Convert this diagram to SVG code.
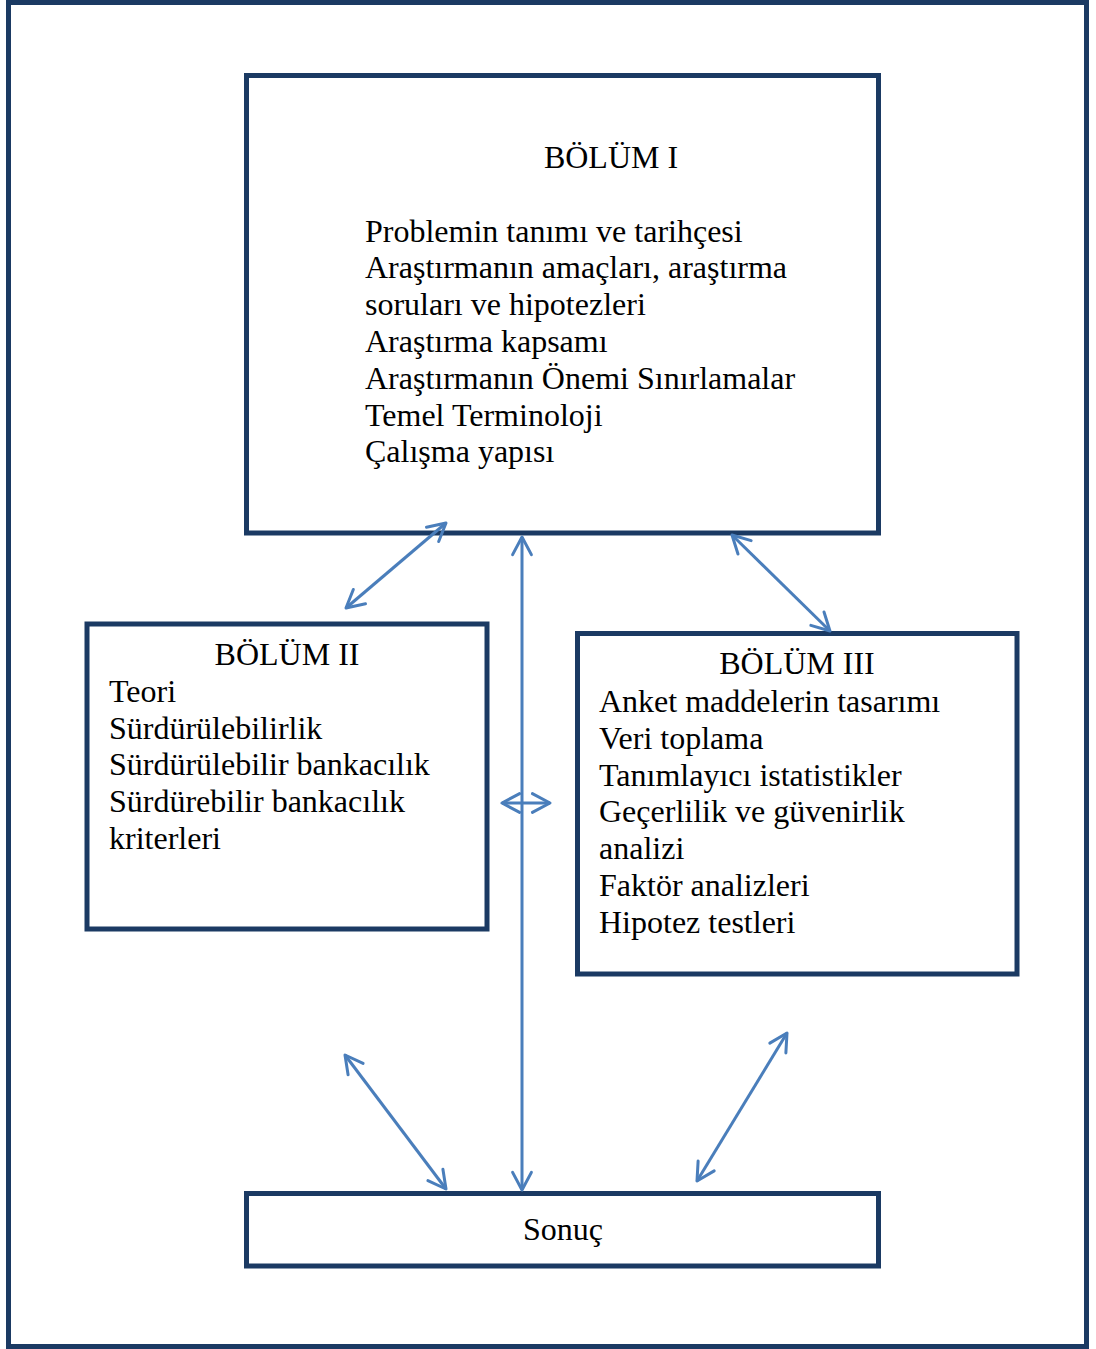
<svg xmlns="http://www.w3.org/2000/svg" width="1096" height="1349" viewBox="0 0 1096 1349">
<style>
.box{fill:#ffffff;stroke:#1B3A63;stroke-width:5}
.t{font-family:"Liberation Serif","Times New Roman",serif;font-size:32px;fill:#000000}
.c{text-anchor:middle}
.conn{stroke:#4A7EBB;stroke-width:3;fill:none}
</style>
<defs>
<marker id="ah" viewBox="-22 -14 26 28" refX="0" refY="0" markerWidth="26" markerHeight="28" markerUnits="userSpaceOnUse" orient="auto-start-reverse" overflow="visible">
<path d="M -17.6 -9.4 L 0 0 L -17.6 9.4" fill="none" stroke="#4A7EBB" stroke-width="3" stroke-linecap="round" stroke-linejoin="round"/>
</marker>
</defs>
<rect x="0" y="0" width="1096" height="1349" fill="#ffffff"/>
<rect id="frame" x="8.5" y="2.5" width="1078" height="1344" fill="none" stroke="#1B3A63" stroke-width="5"/>
<g id="bolum1">
<rect class="box" x="246.5" y="75.5" width="632" height="457.5"/>
<text class="t c" x="611" y="168">BÖLÜM I</text>
<text class="t" x="365" y="241.5">Problemin tanımı ve tarihçesi</text>
<text class="t" x="365" y="278.3">Araştırmanın amaçları, araştırma</text>
<text class="t" x="365" y="315.1">soruları ve hipotezleri</text>
<text class="t" x="365" y="351.9">Araştırma kapsamı</text>
<text class="t" x="365" y="388.7">Araştırmanın Önemi Sınırlamalar</text>
<text class="t" x="365" y="425.5">Temel Terminoloji</text>
<text class="t" x="365" y="462.3">Çalışma yapısı</text>
</g>
<g id="bolum2">
<rect class="box" x="87" y="624" width="400" height="305"/>
<text class="t c" x="287" y="665">BÖLÜM II</text>
<text class="t" x="109" y="702">Teori</text>
<text class="t" x="109" y="739">Sürdürülebilirlik</text>
<text class="t" x="109" y="775">Sürdürülebilir bankacılık</text>
<text class="t" x="109" y="812">Sürdürebilir bankacılık</text>
<text class="t" x="109" y="849">kriterleri</text>
</g>
<g id="bolum3">
<rect class="box" x="577.5" y="633.5" width="439.5" height="340.5"/>
<text class="t c" x="797" y="674">BÖLÜM III</text>
<text class="t" x="599" y="712">Anket maddelerin tasarımı</text>
<text class="t" x="599" y="749">Veri toplama</text>
<text class="t" x="599" y="786">Tanımlayıcı istatistikler</text>
<text class="t" x="599" y="822">Geçerlilik ve güvenirlik</text>
<text class="t" x="599" y="859">analizi</text>
<text class="t" x="599" y="896">Faktör analizleri</text>
<text class="t" x="599" y="933">Hipotez testleri</text>
</g>
<g id="sonuc">
<rect class="box" x="246.5" y="1193.5" width="632" height="72.5"/>
<text class="t c" x="563" y="1240">Sonuç</text>
</g>
<g id="connectors">
<line class="conn" x1="346" y1="608" x2="446" y2="523" marker-start="url(#ah)" marker-end="url(#ah)"/>
<line class="conn" x1="522" y1="537" x2="522" y2="1190" marker-start="url(#ah)" marker-end="url(#ah)"/>
<line class="conn" x1="732" y1="535" x2="830" y2="631" marker-start="url(#ah)" marker-end="url(#ah)"/>
<line class="conn" x1="502" y1="803" x2="550" y2="803" marker-start="url(#ah)" marker-end="url(#ah)"/>
<line class="conn" x1="345" y1="1055" x2="446" y2="1189" marker-start="url(#ah)" marker-end="url(#ah)"/>
<line class="conn" x1="787" y1="1033" x2="697" y2="1181" marker-start="url(#ah)" marker-end="url(#ah)"/>
</g>
</svg>
